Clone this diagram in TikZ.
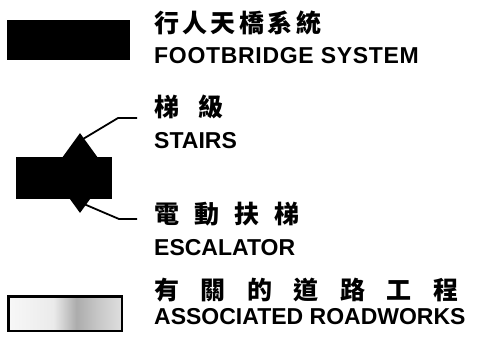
\documentclass[tikz,border=0pt]{standalone}
\usepackage{fontspec}
\setmainfont{Liberation Sans}
\newfontfamily\cjk{Noto Sans CJK TC}
\usetikzlibrary{shapes.geometric}

% speckled grey of the roadworks box, darkest a bit right of the middle
\pgfdeclarehorizontalshading{roadfill}{100bp}{color(0bp)=(gray!6); color(25bp)=(gray!6);
  color(45bp)=(gray!16); color(55bp)=(gray!65); color(64bp)=(gray!45);
  color(75bp)=(gray!25); color(100bp)=(gray!25)}

\tikzset{
  labelen/.style={anchor=west, inner sep=0pt, font=\bfseries\fontsize{23}{25}\selectfont},
  labelzh/.style={anchor=west, inner sep=0pt, font=\cjk\bfseries\fontsize{25}{27}\selectfont},
  solidbox/.style={fill=black, inner sep=0pt},
  leader/.style={line width=1.8pt},
}

\begin{document}
\begin{tikzpicture}[x=1pt,y=-1pt]
    \useasboundingbox (0,0) rectangle (478,345);

    % footbridge
    \node[solidbox, minimum width=123pt, minimum height=40pt] (bridge) at (68.5,40) {};
    \node[labelzh] (bridgezh) at (154,23) {行\hspace{3.4pt}人\hspace{3.4pt}天\hspace{3.4pt}橋\hspace{3.4pt}系\hspace{3.4pt}統};
    \node[labelen] (bridgeen) at (154,55.5) {\addfontfeature{LetterSpace=3}FOOTBRIDGE SYSTEM};

    % stairs and escalator
    \node[solidbox, diamond, minimum width=58pt, minimum height=80pt] (stair) at (80,173) {};
    \node[solidbox, minimum width=96pt, minimum height=42pt] (deck) at (64,178) {};

    \node[labelzh] (stairzh) at (154,107) {梯\hspace{19pt}級};
    \node[labelen] (stairen) at (154,140.5) {STAIRS};
    \node[labelzh] (esczh) at (154,214) {電\hspace{15pt}動\hspace{15pt}扶\hspace{15pt}梯};
    \node[labelen] (escen) at (154,247.5) {ESCALATOR};

    \coordinate (stairbend) at (118,118);
    \coordinate (stairend) at (137,118);
    \coordinate (escbend) at (119,219);
    \coordinate (escend) at (137,219);
    \draw[leader] ([shift={(0,8)}]stair.north) -- (stairbend) -- (stairend);
    \draw[leader] ([shift={(2,-10)}]stair.south) -- (escbend) -- (escend);

    % roadworks
    \node[draw, line width=2.5pt, shade, shading=roadfill, inner sep=0pt,
          minimum width=113.5pt, minimum height=34.5pt] (road) at (65,313.5) {};
    \node[labelzh] (roadzh) at (154,290) {有\hspace{21.5pt}關\hspace{21.5pt}的\hspace{21.5pt}道\hspace{21.5pt}路\hspace{21.5pt}工\hspace{21.5pt}程};
    \node[labelen] (roaden) at (154,317) {ASSOCIATED ROADWORKS};
\end{tikzpicture}
\end{document}
